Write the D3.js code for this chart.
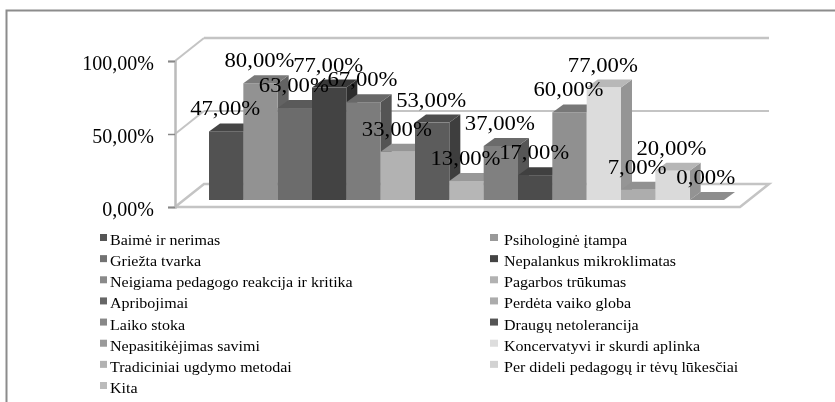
<!DOCTYPE html>
<html>
<head>
<meta charset="utf-8">
<script src="https://cdnjs.cloudflare.com/ajax/libs/d3/7.8.5/d3.min.js"></script>
<style>
  body { margin: 0; background: #fff; }
  svg { display: block; filter: blur(0.45px); }
  text { font-family: "Liberation Serif", serif; fill: #000; }
</style>
</head>
<body>
<svg width="835" height="402"></svg>
<script>
const categories = [
    'Baimė ir nerimas', 'Psihologinė įtampa', 'Griežta tvarka', 'Nepalankus mikroklimatas',
    'Neigiama pedagogo reakcija ir kritika', 'Pagarbos trūkumas', 'Apribojimai', 'Perdėta vaiko globa',
    'Laiko stoka', 'Draugų netolerancija', 'Nepasitikėjimas savimi', 'Koncervatyvi ir skurdi aplinka',
    'Tradiciniai ugdymo metodai', 'Per dideli pedagogų ir tėvų lūkesčiai', 'Kita'
]
const values = [47, 80, 63, 77, 67, 33, 53, 13, 37, 17, 60, 77, 7, 20, 0]
const barColors = [
    '#525252', '#929292', '#6c6c6c', '#434343', '#7c7c7c', '#b2b2b2', '#5c5c5c', '#b6b6b6',
    '#808080', '#4c4c4c', '#909090', '#dcdcdc', '#adadad', '#dadada', '#a8a8a8'
]
const legendColors = [
    '#555555', '#999999', '#727272', '#444444', '#8a8a8a', '#b2b2b2', '#666666', '#acacac',
    '#888888', '#555555', '#9a9a9a', '#dddddd', '#b2b2b2', '#d2d2d2', '#bbbbbb'
]
const yTicks = [0, 50, 100]

const svg = d3.select('svg')
const fmt = d => d.toFixed(2).replace('.', ',') + '%'

// frame, the original is cropped on the right and at the bottom
svg.append('path')
    .attr('d', 'M6.5,402V10.5H835')
    .attr('fill', 'none')
    .attr('stroke', '#8c8c8c')
    .attr('stroke-width', 2)

const yScale = d3.scaleLinear().domain([0, 100]).range([200, 54])
const xScale = d3.scaleBand().domain(d3.range(values.length)).range([209, 724])

// depth of the bars and of the whole box
const dx = 11, dy = 8
const boxDx = 29, boxDy = 23
const axisX = 175, axisOffset = 7
const wallY = v => yScale(v) + axisOffset
const floorRight = 740

const wall = svg.append('g').attr('fill', 'none')

// gridlines on the back wall
wall.selectAll('.grid').data(yTicks.slice(1)).enter().append('path')
    .attr('d', d => `M${axisX + boxDx},${wallY(d) - boxDy}H${floorRight + boxDx}`)
    .attr('stroke', d => d === 50 ? '#8a8a8a' : '#c4c4c4')
    .attr('stroke-width', d => d === 50 ? 1.2 : 2.5)
wall.selectAll('.side').data(yTicks.slice(1)).enter().append('path')
    .attr('d', d => `M${axisX},${wallY(d)}L${axisX + boxDx},${wallY(d) - boxDy}`)
    .attr('stroke', '#c4c4c4')
    .attr('stroke-width', 2)

// floor
wall.append('path')
    .attr('d', `M${axisX},${wallY(0)}L${axisX + boxDx},${wallY(0) - boxDy}H${floorRight + boxDx}L${floorRight},${wallY(0)}Z`)
    .attr('fill', '#fff')
    .attr('stroke', '#c4c4c4')
    .attr('stroke-width', 2.5)

// axis
const axis = svg.append('g')
    .attr('transform', `translate(${axisX}, ${axisOffset})`)
    .call(d3.axisLeft(yScale).tickValues(yTicks).tickFormat(fmt).tickSize(7).tickPadding(14))
axis.select('.domain').attr('stroke', '#bbbbbb').attr('stroke-width', 2.5)
axis.selectAll('.tick line').attr('stroke', '#888888').attr('stroke-width', 1.5)
axis.selectAll('.tick text')
    .style('font-size', '20px')
    .attr('fill', '#000')
    .attr('dy', '0.42em')

// bars left to right, so each one sits over the side of the last
const bars = svg.selectAll('.bar').data(values).enter().append('g').attr('class', 'bar')
const x0 = (d, i) => xScale(i)
const x1 = (d, i) => xScale(i) + xScale.bandwidth()

bars.append('path')
    .attr('d', (d, i) => `M${x1(d, i)},${yScale(0)}V${yScale(d)}l${dx},${-dy}V${yScale(0) - dy}Z`)
    .attr('fill', (d, i) => d3.color(barColors[i]).darker(1.1))
bars.append('path')
    .attr('d', (d, i) => `M${x0(d, i)},${yScale(d)}l${dx},${-dy}H${x1(d, i) + dx}l${-dx},${dy}Z`)
    .attr('fill', (d, i) => d3.color(barColors[i]).darker(0.5))
bars.append('rect')
    .attr('x', (d, i) => x0(d, i))
    .attr('y', d => yScale(d))
    .attr('width', xScale.bandwidth())
    .attr('height', d => yScale(0) - yScale(d))
    .attr('fill', (d, i) => barColors[i])

svg.selectAll('.label').data(values).enter().append('text')
    .attr('class', 'label')
    .attr('x', (d, i) => xScale(i) + xScale.bandwidth() / 2 - 1)
    .attr('y', d => yScale(d) - dy - 8)
    .attr('text-anchor', 'middle')
    .attr('textLength', d => d < 10 ? 59 : 70)
    .attr('lengthAdjust', 'spacingAndGlyphs')
    .style('font-size', '20px')
    .text(fmt)

// legend, two columns filled across
const legendCol = d3.scaleOrdinal().domain([0, 1]).range([100, 490])
const legendRow = d3.scalePoint().domain(d3.range(8)).range([241, 389])
const legend = svg.selectAll('.legend').data(categories).enter().append('g')
    .attr('class', 'legend')
    .attr('transform', (d, i) => `translate(${legendCol(i % 2)}, ${legendRow(Math.floor(i / 2))})`)
legend.append('rect')
    .attr('y', -7)
    .attr('width', (d, i) => i % 2 ? 8 : 7)
    .attr('height', 7)
    .attr('fill', (d, i) => legendColors[i])
// the original text is stretched sideways
legend.append('text')
    .attr('transform', (d, i) => `translate(${i % 2 ? 14 : 10}, 4) scale(1.145, 1)`)
    .style('font-size', '14px')
    .text(d => d)
</script>
</body>
</html>
